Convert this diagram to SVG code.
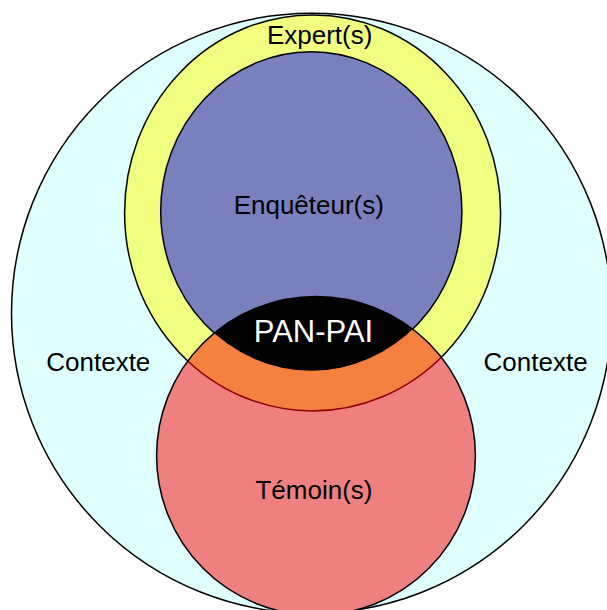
<svg xmlns="http://www.w3.org/2000/svg" width="607" height="610" viewBox="0 0 607 610">
  <style>
    .lbl { font-family: "Liberation Sans", Arial, sans-serif; font-size: 26px; fill: #000; text-anchor: middle; }
    .ln { stroke: #000; stroke-width: 1.5; }
  </style>
  <defs>
    <clipPath id="clipYellow"><ellipse cx="312.6" cy="212.9" rx="188" ry="198"/></clipPath>
    <clipPath id="clipBlue"><ellipse cx="311.3" cy="211.2" rx="150.6" ry="159.5"/></clipPath>
    <clipPath id="clipRed"><circle cx="316" cy="455.8" r="159.4"/></clipPath>
  </defs>
  <rect width="607" height="610" fill="#ffffff"/>
  <g id="contexte">
    <circle class="ln" cx="311.5" cy="313.3" r="300" fill="#E0FFFF"/>
    <text class="lbl" x="98.3" y="370.5">Contexte</text>
    <text class="lbl" x="535.6" y="370.5">Contexte</text>
  </g>
  <g id="experts">
    <ellipse class="ln" cx="312.6" cy="212.9" rx="188" ry="198" fill="#F0FF80"/>
    <text class="lbl" x="319.7" y="44">Expert(s)</text>
  </g>
  <g id="enqueteurs">
    <ellipse class="ln" cx="311.3" cy="211.2" rx="150.6" ry="159.5" fill="#7880BE"/>
    <text class="lbl" x="308.8" y="213.5">Enquêteur(s)</text>
  </g>
  <g id="temoins">
    <circle cx="316" cy="455.8" r="159.4" fill="#F08080"/>
    <circle cx="316" cy="455.8" r="159.4" fill="#F58040" clip-path="url(#clipYellow)"/>
    <ellipse cx="312.6" cy="212.9" rx="188" ry="198" fill="none" stroke="#8B0000" stroke-width="1.5" clip-path="url(#clipRed)"/>
    <circle class="ln" cx="316" cy="455.8" r="159.4" fill="none"/>
    <text class="lbl" x="314" y="499">Témoin(s)</text>
  </g>
  <g id="pan-pai">
    <circle cx="316" cy="455.8" r="159.4" fill="#000000" clip-path="url(#clipBlue)"/>
    <text class="lbl" x="313.5" y="342.3" style="font-size:31px; fill:#ffffff">PAN-PAI</text>
  </g>
</svg>
